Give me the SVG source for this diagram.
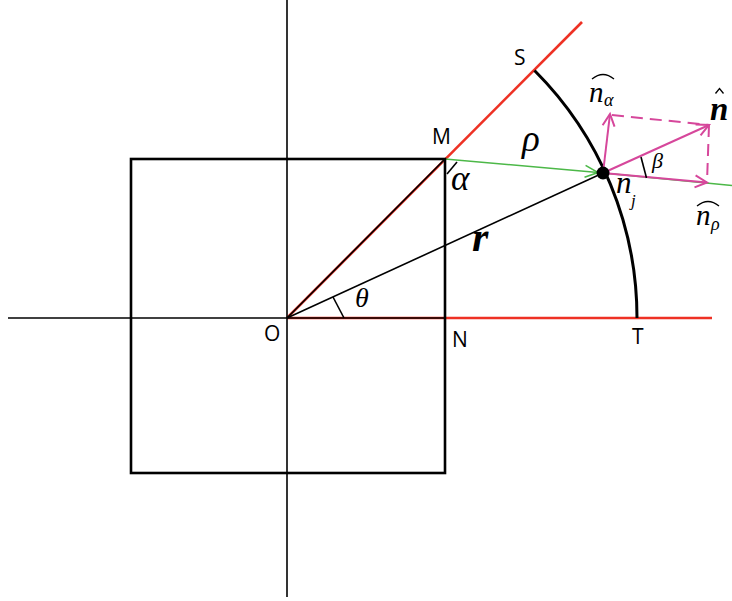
<svg xmlns="http://www.w3.org/2000/svg" width="732" height="601" viewBox="0 0 732 601">
<style>
.ax{stroke:#000;stroke-width:1.6;fill:none}
.sq{stroke:#000;stroke-width:2.6;fill:none}
.red{stroke:#ee3124;stroke-width:2.6;fill:none}
.grn{stroke:#4cb848;stroke-width:1.6;fill:none}
.mag{stroke:#d6479b;stroke-width:2;fill:none}
.dash{stroke:#d6479b;stroke-width:2;fill:none;stroke-dasharray:12 7}
.blk{stroke:#000;stroke-width:1.6;fill:none}
.arc{stroke:#000;stroke-width:3;fill:none}
.lbl{font-family:"Open Sans","Liberation Sans",sans-serif;font-size:21px;fill:#000}
.mi{font-family:"Liberation Serif","Times New Roman",serif;font-style:italic;fill:#000}
.hat{stroke:#000;stroke-width:1.3;fill:none}
</style>
<defs>
<marker id="ag" markerUnits="userSpaceOnUse" markerWidth="20" markerHeight="20" refX="0" refY="0" viewBox="-15 -10 20 20" orient="auto">
<path d="M-13,-6 L0,0 L-13,6" fill="none" stroke="#4cb848" stroke-width="1.6"/>
</marker>
<marker id="am" markerUnits="userSpaceOnUse" markerWidth="20" markerHeight="20" refX="0" refY="0" viewBox="-15 -10 20 20" orient="auto">
<path d="M-12,-6 L0,0 L-12,6" fill="none" stroke="#d6479b" stroke-width="2"/>
</marker>
</defs>
<g id="connectors">
<line class="red" x1="287" y1="318" x2="582" y2="22"/>
<line class="red" x1="287" y1="318" x2="712" y2="318"/>
<line class="ax" x1="8" y1="318" x2="445" y2="318"/>
<line class="ax" x1="287" y1="0" x2="287" y2="597"/>
<line class="blk" x1="287" y1="318" x2="445" y2="159"/>
<path class="arc" d="M534.5,70.5 A350,350 0 0 1 637,318"/>
<line class="blk" x1="287" y1="318" x2="603" y2="173"/>
<line class="grn" x1="603" y1="173" x2="732" y2="185.5"/>
<line class="grn" x1="445" y1="159" x2="598" y2="172.5" marker-end="url(#ag)"/>
<line class="mag" x1="603" y1="173" x2="707" y2="182.5" marker-end="url(#am)"/>
<line class="mag" x1="603" y1="173" x2="610" y2="114" marker-end="url(#am)"/>
<line class="mag" x1="603" y1="173" x2="709" y2="125" marker-end="url(#am)"/>
<line class="dash" x1="612" y1="115" x2="709" y2="125"/>
<line class="dash" x1="709" y1="125" x2="707" y2="182"/>
<line class="blk" x1="333" y1="297" x2="344" y2="318"/>
<line class="blk" x1="457" y1="162" x2="447" y2="174"/>
<line class="blk" x1="641" y1="157" x2="646.5" y2="178"/>
</g>
<g id="square"><rect class="sq" x="131" y="159" width="314" height="314"/></g>
<g id="nj"><circle cx="603" cy="173" r="6.5" fill="#000"/></g>
<g id="labels">
<text class="lbl" x="514" y="65">S</text>
<text class="lbl" x="432" y="144">M</text>
<text class="lbl" x="264" y="341">O</text>
<text class="lbl" x="452" y="347">N</text>
<text class="lbl" x="632" y="344">T</text>
<text class="mi" x="522" y="151" font-size="37">ρ</text>
<text class="mi" x="451" y="190" font-size="35">α</text>
<text class="mi" x="472" y="251" font-size="42" font-weight="bold">r</text>
<text class="mi" x="355" y="307" font-size="28">θ</text>
<text class="mi" x="652" y="168" font-size="22">β</text>
<text class="mi" x="616" y="193" font-size="31">n</text>
<text class="mi" x="631" y="206" font-size="17">j</text>
<text class="mi" x="589" y="102" font-size="29">n</text>
<text class="mi" x="604" y="106" font-size="18">α</text>
<path class="hat" d="M592,79 Q603,70 614,79"/>
<text class="mi" x="710" y="120" font-size="33" font-weight="bold">n</text>
<path class="hat" d="M715.5,93.5 L719.5,88.5 L723.5,93.5"/>
<text class="mi" x="696" y="225" font-size="29">n</text>
<text class="mi" x="711" y="230" font-size="18">ρ</text>
<path class="hat" d="M697,206 Q708,197 719,206"/>
</g>
</svg>
